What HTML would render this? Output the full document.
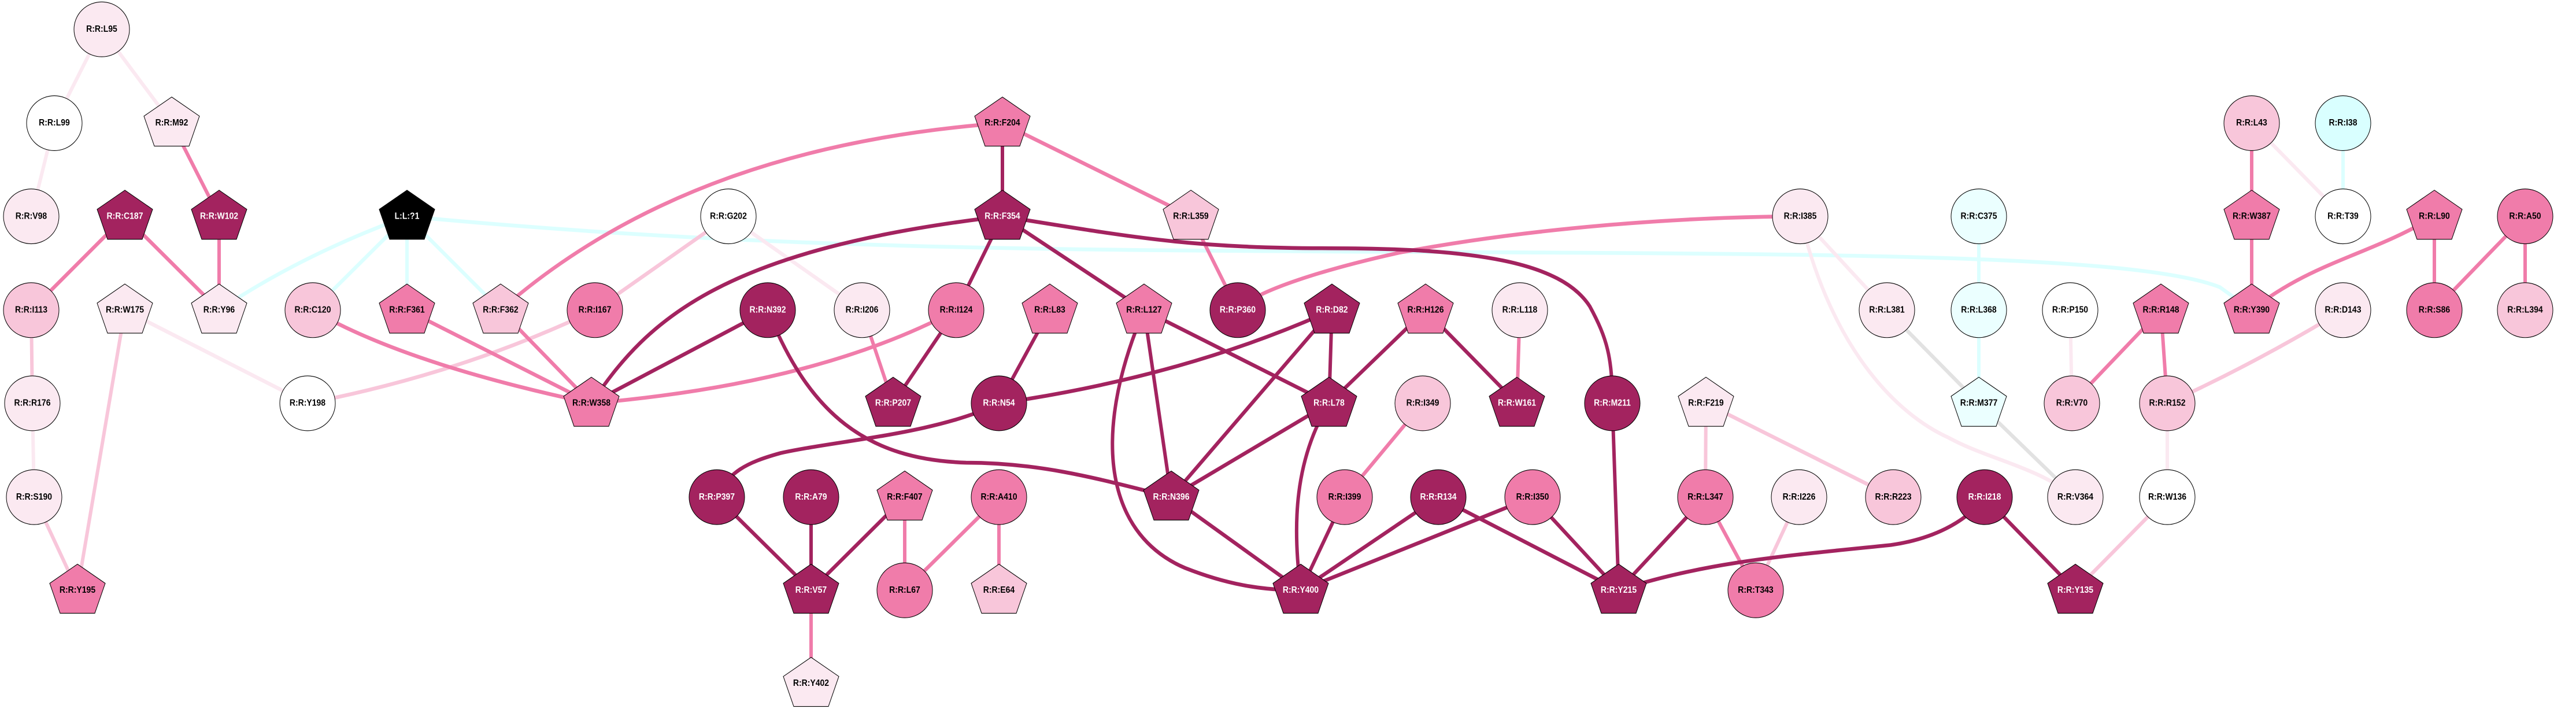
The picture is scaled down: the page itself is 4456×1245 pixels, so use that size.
<!DOCTYPE html>
<html><head><meta charset="utf-8"><style>
html,body{margin:0;padding:0;background:#fff}
svg{display:block}
text{font-family:"Liberation Sans",Arial,sans-serif;font-weight:bold;font-size:14px;text-anchor:middle;dominant-baseline:central}
</style></head><body>
<svg width="4456" height="1245" viewBox="0 0 4456 1245" xmlns="http://www.w3.org/2000/svg">
<defs>
<polygon id="pg" points="0,-41 48,-11 30,36 -30,36 -48,-11" stroke="#000" stroke-width="1"/>
</defs>
<g transform="scale(1,1.1035)">
<g fill="none" stroke-width="6" stroke-linecap="round">
<g stroke="#dcffff">
<path d="M704,339 Q520,400 379,486"/>
<line x1="704" y1="339" x2="541" y2="486"/>
<line x1="704" y1="339" x2="704" y2="486"/>
<line x1="704" y1="339" x2="866" y2="486"/>
<path d="M704,339 C1300,390 1800,392 2500,395 C3200,398 3700,400 3840,450 L3895,486"/>
<line x1="3423" y1="339" x2="3423" y2="486"/>
<line x1="3423" y1="486" x2="3423" y2="632"/>
<line x1="4053" y1="193" x2="4053" y2="339"/>
</g>
<g stroke="#e2e2e2">
<line x1="3264" y1="486" x2="3423" y2="632"/>
<line x1="3423" y1="632" x2="3590" y2="779"/>
</g>
<g stroke="#fbe9f1">
<line x1="176" y1="46" x2="94" y2="193"/>
<line x1="176" y1="46" x2="297" y2="193"/>
<line x1="94" y1="193" x2="54" y2="339"/>
<line x1="56" y1="632" x2="59" y2="779"/>
<line x1="216" y1="486" x2="532" y2="632"/>
<line x1="1260" y1="339" x2="1491" y2="486"/>
<line x1="3114" y1="339" x2="3264" y2="486"/>
<path d="M3114,339 C3160,520 3260,640 3371,686 C3440,720 3520,730 3590,779"/>
<line x1="3581" y1="486" x2="3584" y2="632"/>
<line x1="3749" y1="632" x2="3749" y2="779"/>
<line x1="3895" y1="193" x2="4053" y2="339"/>
</g>
<g stroke="#f8c6da">
<line x1="54" y1="486" x2="56" y2="632"/>
<line x1="59" y1="779" x2="134" y2="925"/>
<line x1="216" y1="486" x2="134" y2="925"/>
<path d="M532,632 Q800,585 1029,486"/>
<line x1="1029" y1="486" x2="1260" y2="339"/>
<line x1="2951" y1="632" x2="2950" y2="779"/>
<line x1="2951" y1="632" x2="3275" y2="779"/>
<line x1="3112" y1="779" x2="3037" y2="925"/>
<path d="M3749,632 Q3900,570 4053,486"/>
<line x1="3749" y1="779" x2="3590" y2="925"/>
</g>
<g stroke="#f07caa">
<line x1="297" y1="193" x2="379" y2="339"/>
<line x1="216" y1="339" x2="54" y2="486"/>
<line x1="216" y1="339" x2="379" y2="486"/>
<line x1="379" y1="339" x2="379" y2="486"/>
<path d="M541,486 Q700,570 1023,632"/>
<line x1="704" y1="486" x2="1023" y2="632"/>
<line x1="866" y1="486" x2="1023" y2="632"/>
<path d="M866,486 C1100,300 1400,215 1734,193"/>
<path d="M1023,632 C1300,610 1500,560 1654,486"/>
<line x1="1491" y1="486" x2="1545" y2="632"/>
<line x1="1734" y1="193" x2="2060" y2="339"/>
<line x1="2060" y1="339" x2="2141" y2="486"/>
<path d="M2141,486 C2170,455 2300,420 2420,396 C2650,357 2900,340 3114,339"/>
<line x1="1403" y1="925" x2="1403" y2="1071"/>
<line x1="1565" y1="779" x2="1565" y2="925"/>
<line x1="1728" y1="779" x2="1565" y2="925"/>
<line x1="1728" y1="779" x2="1728" y2="925"/>
<line x1="2461" y1="632" x2="2326" y2="779"/>
<line x1="2629" y1="486" x2="2624" y2="632"/>
<line x1="2950" y1="779" x2="3037" y2="925"/>
<line x1="3738" y1="486" x2="3584" y2="632"/>
<line x1="3738" y1="486" x2="3749" y2="632"/>
<line x1="3895" y1="193" x2="3895" y2="339"/>
<line x1="3895" y1="339" x2="3895" y2="486"/>
<path d="M4211,339 C4100,400 4000,410 3895,486"/>
<line x1="4211" y1="339" x2="4211" y2="486"/>
<line x1="4368" y1="339" x2="4211" y2="486"/>
<line x1="4368" y1="339" x2="4368" y2="486"/>
</g>
<g stroke="#a3235f">
<path d="M1023,632 C1120,500 1250,390 1734,339"/>
<line x1="1328" y1="486" x2="1023" y2="632"/>
<path d="M1328,486 C1400,650 1500,720 1671,725 C1800,725 1900,750 2026,779"/>
<line x1="1734" y1="193" x2="1734" y2="339"/>
<line x1="1734" y1="339" x2="1654" y2="486"/>
<line x1="1654" y1="486" x2="1545" y2="632"/>
<line x1="1816" y1="486" x2="1728" y2="632"/>
<path d="M1728,632 Q2050,590 2304,486"/>
<path d="M1728,632 C1620,680 1450,690 1350,710 C1290,725 1260,740 1240,779"/>
<line x1="1240" y1="779" x2="1403" y2="925"/>
<line x1="1403" y1="779" x2="1403" y2="925"/>
<line x1="1565" y1="779" x2="1403" y2="925"/>
<line x1="1734" y1="339" x2="1979" y2="486"/>
<path d="M1734,339 C1950,370 2050,389 2300,389 C2550,389 2700,410 2750,480 C2780,530 2789,560 2789,632"/>
<line x1="1979" y1="486" x2="2026" y2="779"/>
<line x1="1979" y1="486" x2="2299" y2="632"/>
<path d="M1964,520 C1890,700 1920,840 2050,890 C2120,915 2180,925 2250,925"/>
<line x1="2304" y1="486" x2="2026" y2="779"/>
<line x1="2304" y1="486" x2="2299" y2="632"/>
<line x1="2466" y1="486" x2="2299" y2="632"/>
<line x1="2466" y1="486" x2="2624" y2="632"/>
<line x1="2026" y1="779" x2="2299" y2="632"/>
<path d="M2299,632 C2240,720 2235,820 2250,925"/>
<line x1="2026" y1="779" x2="2250" y2="925"/>
<line x1="2326" y1="779" x2="2250" y2="925"/>
<line x1="2488" y1="779" x2="2250" y2="925"/>
<line x1="2651" y1="779" x2="2250" y2="925"/>
<line x1="2488" y1="779" x2="2800" y2="925"/>
<line x1="2651" y1="779" x2="2800" y2="925"/>
<line x1="2789" y1="632" x2="2800" y2="925"/>
<line x1="2950" y1="779" x2="2800" y2="925"/>
<path d="M2800,925 C2950,880 3100,870 3271,854 C3340,845 3400,820 3433,779"/>
<line x1="3433" y1="779" x2="3590" y2="925"/>
</g>
</g>
<g stroke="#000" stroke-width="1">
<g fill="#fbe9f1">
<ellipse cx="176" cy="46" rx="48" ry="43"/><ellipse cx="54" cy="339" rx="48" ry="43"/>
<ellipse cx="56" cy="632" rx="48" ry="43"/><ellipse cx="59" cy="779" rx="48" ry="43"/>
<ellipse cx="1491" cy="486" rx="48" ry="43"/><ellipse cx="2629" cy="486" rx="48" ry="43"/>
<ellipse cx="3114" cy="339" rx="48" ry="43"/><ellipse cx="3264" cy="486" rx="48" ry="43"/>
<ellipse cx="3112" cy="779" rx="48" ry="43"/><ellipse cx="4053" cy="486" rx="48" ry="43"/>
<ellipse cx="3590" cy="779" rx="48" ry="43"/>
<use href="#pg" x="297" y="193"/><use href="#pg" x="216" y="486"/><use href="#pg" x="379" y="486"/>
<use href="#pg" x="1403" y="1071"/><use href="#pg" x="2951" y="632"/>
</g>
<g fill="#fff">
<ellipse cx="94" cy="193" rx="48" ry="43"/><ellipse cx="532" cy="632" rx="48" ry="43"/>
<ellipse cx="1260" cy="339" rx="48" ry="43"/><ellipse cx="3581" cy="486" rx="48" ry="43"/>
<ellipse cx="3749" cy="779" rx="48" ry="43"/><ellipse cx="4053" cy="339" rx="48" ry="43"/>
</g>
<g fill="#f8c6da">
<ellipse cx="54" cy="486" rx="48" ry="43"/><ellipse cx="541" cy="486" rx="48" ry="43"/>
<ellipse cx="2461" cy="632" rx="48" ry="43"/><ellipse cx="3275" cy="779" rx="48" ry="43"/>
<ellipse cx="3895" cy="193" rx="48" ry="43"/><ellipse cx="4368" cy="486" rx="48" ry="43"/>
<ellipse cx="3584" cy="632" rx="48" ry="43"/><ellipse cx="3749" cy="632" rx="48" ry="43"/>
<use href="#pg" x="866" y="486"/><use href="#pg" x="2060" y="339"/><use href="#pg" x="1728" y="925"/>
</g>
<g fill="#f07caa">
<ellipse cx="1029" cy="486" rx="48" ry="43"/><ellipse cx="1654" cy="486" rx="48" ry="43"/>
<ellipse cx="1728" cy="779" rx="48" ry="43"/><ellipse cx="1565" cy="925" rx="48" ry="43"/>
<ellipse cx="2326" cy="779" rx="48" ry="43"/><ellipse cx="2651" cy="779" rx="48" ry="43"/>
<ellipse cx="2950" cy="779" rx="48" ry="43"/><ellipse cx="3037" cy="925" rx="48" ry="43"/>
<ellipse cx="4368" cy="339" rx="48" ry="43"/><ellipse cx="4211" cy="486" rx="48" ry="43"/>
<use href="#pg" x="704" y="486"/><use href="#pg" x="1023" y="632"/><use href="#pg" x="134" y="925"/>
<use href="#pg" x="1734" y="193"/><use href="#pg" x="1816" y="486"/><use href="#pg" x="1979" y="486"/>
<use href="#pg" x="1565" y="779"/><use href="#pg" x="2466" y="486"/><use href="#pg" x="3738" y="486"/>
<use href="#pg" x="3895" y="339"/><use href="#pg" x="3895" y="486"/><use href="#pg" x="4211" y="339"/>
</g>
<g fill="#a3235f">
<ellipse cx="1328" cy="486" rx="48" ry="43"/><ellipse cx="2141" cy="486" rx="48" ry="43"/>
<ellipse cx="1728" cy="632" rx="48" ry="43"/><ellipse cx="2789" cy="632" rx="48" ry="43"/>
<ellipse cx="1240" cy="779" rx="48" ry="43"/><ellipse cx="1403" cy="779" rx="48" ry="43"/>
<ellipse cx="2488" cy="779" rx="48" ry="43"/><ellipse cx="3433" cy="779" rx="48" ry="43"/>
<use href="#pg" x="216" y="339"/><use href="#pg" x="379" y="339"/><use href="#pg" x="1734" y="339"/>
<use href="#pg" x="1545" y="632"/><use href="#pg" x="2304" y="486"/><use href="#pg" x="2299" y="632"/>
<use href="#pg" x="2624" y="632"/><use href="#pg" x="1403" y="925"/><use href="#pg" x="2026" y="779"/>
<use href="#pg" x="2250" y="925"/><use href="#pg" x="2800" y="925"/><use href="#pg" x="3590" y="925"/>
</g>
<ellipse cx="4053" cy="193" rx="48" ry="43" fill="#d9ffff"/>
<ellipse cx="3423" cy="339" rx="48" ry="43" fill="#ebffff"/>
<ellipse cx="3423" cy="486" rx="48" ry="43" fill="#ebffff"/>
<use href="#pg" x="3423" y="632" fill="#ebffff"/>
<use href="#pg" x="704" y="339" fill="#000"/>
</g>
<g fill="#000">
<text x="176" y="46">R:R:L95</text><text x="94" y="193">R:R:L99</text><text x="297" y="193">R:R:M92</text>
<text x="54" y="339">R:R:V98</text><text x="54" y="486">R:R:I113</text><text x="216" y="486">R:R:W175</text>
<text x="379" y="486">R:R:Y96</text><text x="541" y="486">R:R:C120</text><text x="704" y="486">R:R:F361</text>
<text x="866" y="486">R:R:F362</text><text x="1029" y="486">R:R:I167</text><text x="56" y="632">R:R:R176</text>
<text x="532" y="632">R:R:Y198</text><text x="1023" y="632">R:R:W358</text><text x="59" y="779">R:R:S190</text>
<text x="134" y="925">R:R:Y195</text><text x="1734" y="193">R:R:F204</text><text x="1260" y="339">R:R:G202</text>
<text x="2060" y="339">R:R:L359</text><text x="1491" y="486">R:R:I206</text><text x="1654" y="486">R:R:I124</text>
<text x="1816" y="486">R:R:L83</text><text x="1979" y="486">R:R:L127</text><text x="1565" y="779">R:R:F407</text>
<text x="1728" y="779">R:R:A410</text><text x="1565" y="925">R:R:L67</text><text x="1728" y="925">R:R:E64</text>
<text x="1403" y="1071">R:R:Y402</text><text x="2466" y="486">R:R:H126</text><text x="2629" y="486">R:R:L118</text>
<text x="3114" y="339">R:R:I385</text><text x="3264" y="486">R:R:L381</text><text x="2461" y="632">R:R:I349</text>
<text x="2951" y="632">R:R:F219</text><text x="2326" y="779">R:R:I399</text><text x="2651" y="779">R:R:I350</text>
<text x="2950" y="779">R:R:L347</text><text x="3112" y="779">R:R:I226</text><text x="3275" y="779">R:R:R223</text>
<text x="3037" y="925">R:R:T343</text><text x="3895" y="193">R:R:L43</text><text x="4053" y="193">R:R:I38</text>
<text x="3423" y="339">R:R:C375</text><text x="3895" y="339">R:R:W387</text><text x="4053" y="339">R:R:T39</text>
<text x="4211" y="339">R:R:L90</text><text x="4368" y="339">R:R:A50</text><text x="3423" y="486">R:R:L368</text>
<text x="3581" y="486">R:R:P150</text><text x="3738" y="486">R:R:R148</text><text x="3895" y="486">R:R:Y390</text>
<text x="4053" y="486">R:R:D143</text><text x="4211" y="486">R:R:S86</text><text x="4368" y="486">R:R:L394</text>
<text x="3423" y="632">R:R:M377</text><text x="3584" y="632">R:R:V70</text><text x="3749" y="632">R:R:R152</text>
<text x="3590" y="779">R:R:V364</text><text x="3749" y="779">R:R:W136</text>
</g>
<g fill="#fff">
<text x="216" y="339">R:R:C187</text><text x="379" y="339">R:R:W102</text><text x="704" y="339">L:L:?1</text>
<text x="1734" y="339">R:R:F354</text><text x="1328" y="486">R:R:N392</text><text x="2141" y="486">R:R:P360</text>
<text x="1545" y="632">R:R:P207</text><text x="1728" y="632">R:R:N54</text><text x="1240" y="779">R:R:P397</text>
<text x="1403" y="779">R:R:A79</text><text x="2026" y="779">R:R:N396</text><text x="1403" y="925">R:R:V57</text>
<text x="2304" y="486">R:R:D82</text><text x="2299" y="632">R:R:L78</text><text x="2624" y="632">R:R:W161</text>
<text x="2789" y="632">R:R:M211</text><text x="2488" y="779">R:R:R134</text><text x="2250" y="925">R:R:Y400</text>
<text x="2800" y="925">R:R:Y215</text><text x="3433" y="779">R:R:I218</text><text x="3590" y="925">R:R:Y135</text>
</g>
</g>
</svg>
</body></html>
